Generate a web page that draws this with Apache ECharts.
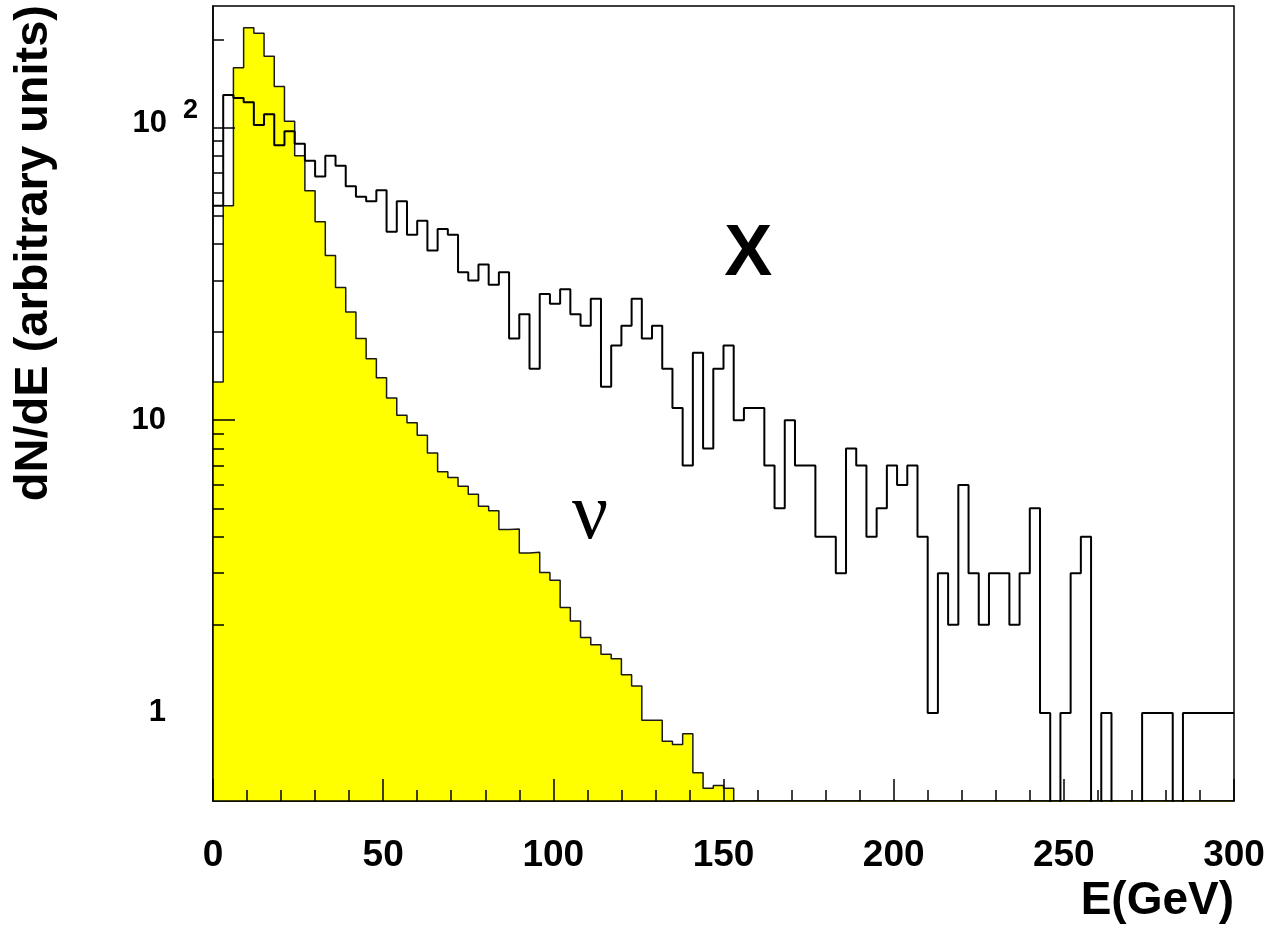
<!DOCTYPE html>
<html>
<head>
<meta charset="utf-8">
<script src="https://cdn.jsdelivr.net/npm/echarts@6/dist/echarts.min.js"></script>
<style>
html,body{margin:0;padding:0;background:#fff;}
#c{width:1271px;height:940px;}
</style>
</head>
<body>
<div id="c"></div>
<script>
// ---- data ----
const binWidth = 3;                 // GeV per bin, 100 bins from 0 to 300
const binEdges = Array.from({length: 101}, (_, i) => i * binWidth);

// X spectrum (counts per bin)
const xCounts = [
  54,129,126,122,102,111,87,97,88,77,
  68,80,74,63,58,56,61,44,56,43,
  48,38,45,43,32,30,34,29,32,19,
  23,15,27,25,28,23,21,26,13,18,
  21,26,19,21,15,11,7,17,8,15,
  18,10,11,11,7,5,10,7,7,4,
  4,3,8,7,4,5,7,6,7,4,
  1,3,2,6,3,2,3,3,2,3,
  5,1,0,1,3,4,0,1,0,0,
  0,1,1,1,0,1,1,1,1,1
];

// neutrino spectrum (filled, yellow)
const nuCounts = [
  13.5,54,160,219,210,175,138,105,80,60.8,
  47.6,36.5,28.4,23.4,19.0,16.2,13.95,11.9,10.4,9.79,
  8.89,7.73,6.66,6.37,5.95,5.58,5.08,4.90,4.23,4.25,
  3.52,3.54,3.02,2.84,2.29,2.06,1.81,1.71,1.585,1.53,
  1.35,1.235,0.943,0.943,0.80,0.78,0.849,0.624,0.553,0.565,
  0.553,0,0,0,0,0,0,0,0,0,
  0,0,0,0,0,0,0,0,0,0,
  0,0,0,0,0,0,0,0,0,0,
  0,0,0,0,0,0,0,0,0,0,
  0,0,0,0,0,0,0,0,0,0
];

const xTickValues = [0, 50, 100, 150, 200, 250, 300];
const yTickValues = [1, 10, 100];
const yTickBase   = ['1', '10', '10'];
const yTickExp    = ['', '', '2'];
const yMinorTicks = [2,3,4,5,6,7,8,9,20,30,40,50,60,70,80,90,200];

const xTitle = 'E(GeV)';
const yTitle = 'dN/dE (arbitrary units)';
const annotations = [
  {text: 'X', at: [157.3, 36.5], font: 'bold 72px "Liberation Sans"'},
  {text: '\u03BD', at: [110.8, 4.68], font: '80px "Liberation Serif"'}
];

// ---- chart ----
const FLOOR = 0.1; // empty bins drawn below the axis minimum (clipped)
function stepData(values) {
  const pts = values.map((v, i) => [binEdges[i], v > 0 ? v : FLOOR]);
  pts.push([binEdges[values.length], values[values.length - 1] > 0 ? values[values.length - 1] : FLOOR]);
  return pts;
}

const FONT = 'Liberation Sans';
const chart = echarts.init(document.getElementById('c'), null, {renderer: 'canvas'});

const yLabelRich = {
  n: {fontFamily: FONT, fontWeight: 'bold', fontSize: 31, color: '#000', padding: [0, 32, 0, 0]},
  m: {fontFamily: FONT, fontWeight: 'bold', fontSize: 31, color: '#000', padding: [0, 16, 9, 0]},
  s: {fontFamily: FONT, fontWeight: 'bold', fontSize: 27, color: '#000', padding: [0, 0, 33, 0]}
};

const option = {
  animation: false,
  backgroundColor: '#ffffff',
  grid: {left: 213, right: 37, top: 6, bottom: 139, show: true, borderColor: '#000', borderWidth: 1.5, backgroundColor: 'transparent'},
  xAxis: {
    type: 'value', min: xTickValues[0], max: xTickValues[xTickValues.length - 1], interval: 50,
    z: 10,
    axisLine: {show: true, lineStyle: {color: '#000', width: 1.5}},
    axisTick: {show: true, inside: true, length: 22, lineStyle: {color: '#000', width: 1.5}},
    minorTick: {show: true, splitNumber: 5, length: 11, lineStyle: {color: '#000', width: 1.5}},
    splitLine: {show: false},
    minorSplitLine: {show: false},
    axisLabel: {fontFamily: FONT, fontWeight: 'bold', fontSize: 37, color: '#000', margin: 36},
    name: xTitle, nameLocation: 'end', nameGap: 0, nameMoveOverlap: false,
    nameTextStyle: {fontFamily: FONT, fontWeight: 'bold', fontSize: 46, color: '#000', align: 'right', verticalAlign: 'top', padding: [77, 0, 0, 0]}
  },
  yAxis: [{
    type: 'log', logBase: 10, min: 0.5, max: 260,
    z: 10,
    axisLine: {show: true, lineStyle: {color: '#000', width: 1.5}},
    axisTick: {show: true, inside: true, length: 22, customValues: yTickValues.slice(1), lineStyle: {color: '#000', width: 1.5}},
    splitLine: {show: false},
    axisLabel: {
      customValues: yTickValues, margin: 15,
      formatter: function (v) {
        let idx = 0, best = Infinity;
        yTickValues.forEach((t, i) => { const d = Math.abs(Math.log10(v) - Math.log10(t)); if (d < best) { best = d; idx = i; } });
        return yTickExp[idx] ? '{m|' + yTickBase[idx] + '}{s|' + yTickExp[idx] + '}' : '{n|' + yTickBase[idx] + '}';
      },
      rich: yLabelRich
    },
    name: yTitle, nameLocation: 'end', nameRotate: 90, nameGap: 1, nameMoveOverlap: false,
    nameTextStyle: {fontFamily: FONT, fontWeight: 'bold', fontSize: 47, color: '#000', align: 'right', verticalAlign: 'bottom', padding: [0, 0, 155, 0]}
  }, {
    type: 'log', logBase: 10, min: 0.5, max: 260, position: 'left',
    z: 10,
    axisLine: {show: false},
    axisTick: {show: true, inside: true, length: 11, customValues: yMinorTicks, lineStyle: {color: '#000', width: 1.5}},
    axisLabel: {show: false},
    splitLine: {show: false}
  }],
  series: [{
    name: 'nu', type: 'line', step: 'end', data: stepData(nuCounts),
    symbol: 'none', showSymbol: false, z: 2,
    lineStyle: {color: '#1a1a1a', width: 1.5},
    areaStyle: {color: '#ffff00', opacity: 1, origin: 'start'}
  }, {
    name: 'X', type: 'line', step: 'end', data: stepData(xCounts),
    symbol: 'none', showSymbol: false, z: 3,
    lineStyle: {color: '#000', width: 2}
  }]
};
chart.setOption(option);

const graphics = annotations.map(a => {
  const p = chart.convertToPixel({xAxisIndex: 0, yAxisIndex: 0}, a.at);
  return {type: 'text', x: p[0], y: p[1], z: 20,
    style: {text: a.text, font: a.font, fill: '#000', align: 'center', verticalAlign: 'middle'}};
});
chart.setOption({graphic: graphics});
</script>
</body>
</html>
